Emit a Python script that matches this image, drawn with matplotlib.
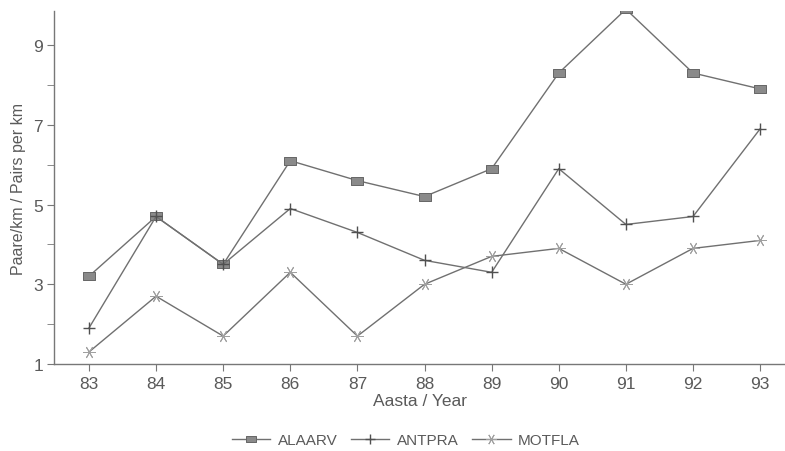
import matplotlib
matplotlib.use("Agg")
import matplotlib.pyplot as plt
from matplotlib.path import Path

plt.rcParams['font.family'] = ['Liberation Sans', 'DejaVu Sans']

years = [83, 84, 85, 86, 87, 88, 89, 90, 91, 92, 93]
alaarv = [3.2, 4.7, 3.5, 6.1, 5.6, 5.2, 5.9, 8.3, 9.9, 8.3, 7.9]
antpra = [1.9, 4.7, 3.5, 4.9, 4.3, 3.6, 3.3, 5.9, 4.5, 4.7, 6.9]
motfla = [1.3, 2.7, 1.7, 3.3, 1.7, 3.0, 3.7, 3.9, 3.0, 3.9, 4.1]
series_names = ['ALAARV', 'ANTPRA', 'MOTFLA']
y_major = [1, 3, 5, 7, 9]
y_minor = [2, 4, 6, 8]

text_color = '#5a5a5a'
line_color = '#707070'

# flat rectangle marker
rect = Path([(-1, -0.6), (1, -0.6), (1, 0.6), (-1, 0.6), (-1, -0.6)],
            [Path.MOVETO, Path.LINETO, Path.LINETO, Path.LINETO, Path.CLOSEPOLY])

fig = plt.figure(figsize=(7.85, 4.52), dpi=100)
ax = fig.add_axes([0.0688, 0.1925, 0.9312, 0.7805])

ax.plot(years, alaarv, color=line_color, lw=1.0, marker=rect, ms=9,
        mfc='#8a8a8a', mec='#666666', mew=0.7, label=series_names[0])
ax.plot(years, antpra, color=line_color, lw=1.0, marker='+', ms=8,
        mew=1.0, mec='#505050', label=series_names[1])
ax.plot(years, motfla, color=line_color, lw=1.0, marker=(6, 2, 90), ms=9,
        mew=0.7, mec='#a0a0a0', label=series_names[2])

ax.set_xlim(82.48, 93.37)
ax.set_ylim(1, 9.85)
ax.set_xticks(years)
ax.set_xticklabels([str(y) for y in years])
ax.set_yticks(y_major)
ax.set_yticks(y_minor, minor=True)

for side in ('top', 'right'):
    ax.spines[side].set_visible(False)
for side in ('left', 'bottom'):
    ax.spines[side].set_color('#777777')
    ax.spines[side].set_linewidth(1.0)

ax.tick_params(axis='both', which='both', direction='out', length=5,
               color='#777777', labelcolor=text_color, labelsize=12.5)
ax.tick_params(axis='x', pad=4)
ax.tick_params(axis='y', pad=3)

ax.set_xlabel('Aasta / Year', color=text_color, fontsize=12.5, labelpad=1)
ax.set_ylabel('Paare/km / Pairs per km', color=text_color, fontsize=11.5, labelpad=5)

leg = fig.legend(loc='lower center', bbox_to_anchor=(0.517, -0.022), ncol=3,
                 frameon=False, fontsize=11, handlelength=2.5, columnspacing=0.9,
                 handletextpad=0.5, markerscale=0.85)
for t in leg.get_texts():
    t.set_color(text_color)

fig.savefig('out.png', dpi=100, facecolor='white')
